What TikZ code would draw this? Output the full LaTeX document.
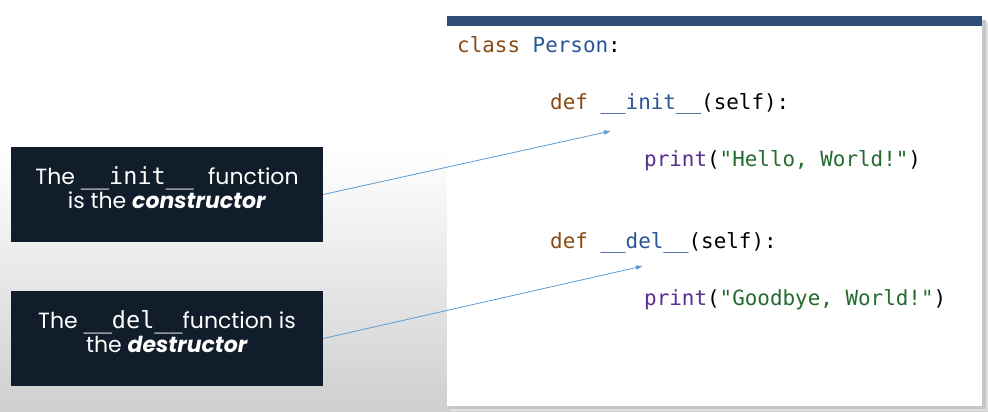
\documentclass[tikz,border=0pt]{standalone}
\usepackage{fontspec}
\setmainfont{Poppins}
\newfontfamily\codefont{DejaVu Sans Mono}
\usetikzlibrary{arrows.meta}
\definecolor{boxnavy}{HTML}{111D2A}
\definecolor{barblue}{HTML}{2E4E78}
\definecolor{kwbrown}{HTML}{8B4A12}
\definecolor{clsblue}{HTML}{2A5699}
\definecolor{fnpurple}{HTML}{5A2D91}
\definecolor{strgreen}{HTML}{236B2E}
\definecolor{arrowblue}{HTML}{5B9BD5}
\newcommand{\kw}[1]{\textcolor{kwbrown}{#1}}
\newcommand{\nm}[1]{\textcolor{clsblue}{#1}}
\newcommand{\fn}[1]{\textcolor{fnpurple}{#1}}
\newcommand{\str}[1]{\textcolor{strgreen}{#1}}
\newcommand{\boxcode}[1]{{\codefont\fontsize{23.5}{24}\selectfont #1}}
\begin{document}
\begin{tikzpicture}[x=1pt, y=-1pt,
	infobox/.style={fill=boxnavy, text=white, align=center, inner sep=0pt,
		minimum width=312pt, minimum height=95pt, font=\fontsize{22}{24}\selectfont},
	codeline/.style={anchor=base west, inner sep=0pt, font=\codefont\fontsize{20.9}{24}\selectfont},
	pointer/.style={draw=arrowblue, line width=0.8pt, -{Latex[length=7pt,width=5pt]}}]
	\useasboundingbox (0,0) rectangle (988,412);
	%background
	\fill[white] (0,0) rectangle (988,150);
	\shade[top color=white, bottom color=black!19] (0,150) rectangle (988,412);
	
	%code panel with its shadow
	\fill[black!12] (450,22) rectangle (988,411);
	\fill[black!22] (449,20) rectangle (986,409);
	\node (codebox) at (447,16) [anchor=north west, fill=white, inner sep=0pt,
		minimum width=535pt, minimum height=390pt]{};
	\fill[barblue] (codebox.north west) rectangle ([yshift=-10pt]codebox.north east);
	
	\node (clsline) at (457,53) [codeline]{\kw{class} \nm{Person}:};
	\node (initline) at (550,109) [codeline]{\kw{def} \nm{\_\_init\_\_}(self):};
	\node (hello) at (644,166) [codeline]{\fn{print}(\str{"Hello, World!"})};
	\node (delline) at (550,248) [codeline]{\kw{def} \nm{\_\_del\_\_}(self):};
	\node (bye) at (644,305) [codeline]{\fn{print}(\str{"Goodbye, World!"})};
	
	%the two remarks
	\node (initbox) at (167,194.5) [infobox, text depth=14pt]{The \boxcode{\_\_init\_\_ }function\\is the \textbf{\textit{constructor}}};
	\node (delbox) at (167,338.5) [infobox, text depth=14pt]{The \boxcode{\_\_del\_\_}function is\\the \textbf{\textit{destructor}}};
	
	\coordinate (inittip) at (611,131);
	\coordinate (deltip) at (643,266);
	\draw[pointer] (initbox.east) -- (inittip);
	\draw[pointer] (delbox.east) -- (deltip);
\end{tikzpicture}
\end{document}
